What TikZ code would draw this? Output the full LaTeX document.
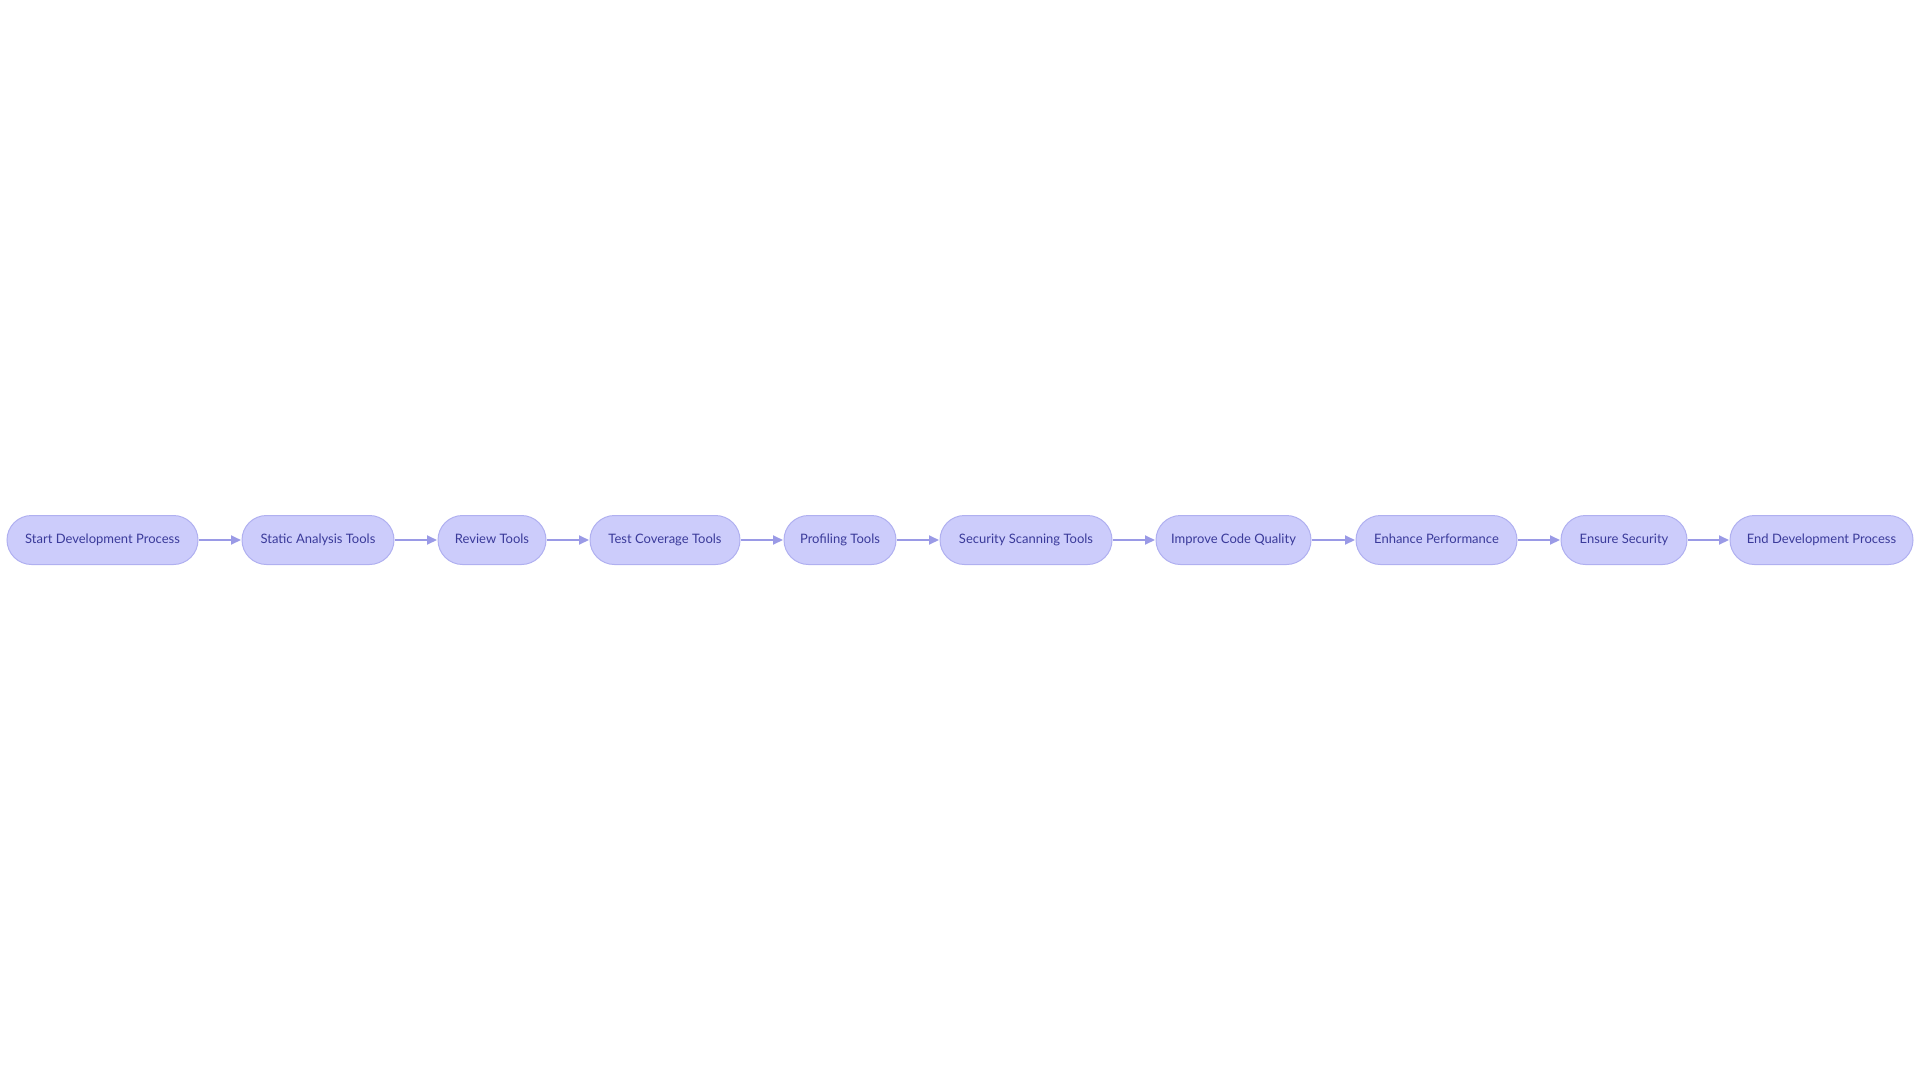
\documentclass[tikz,border=0pt]{standalone}
\usepackage{fontspec}
\setmainfont{Lato}
\usetikzlibrary{arrows.meta}
\definecolor{nodefill}{HTML}{CCCCFB}
\definecolor{nodedraw}{HTML}{B0B0F0}
\definecolor{nodetext}{HTML}{3A3A9A}
\definecolor{edgecol}{HTML}{9A9AE6}
\tikzset{
  pill/.style={draw=nodedraw, fill=nodefill, line width=1pt, rounded corners=24.5pt,
    minimum height=49pt, inner sep=0pt, text=nodetext, text height=9.6pt, text depth=2.6pt,
    font=\fontsize{13pt}{15pt}\selectfont},
  flow/.style={draw=edgecol, line width=1.8pt, -{Triangle[length=10pt,width=9pt]}, shorten >=0.5pt}
}
\begin{document}
\begin{tikzpicture}[x=1pt,y=-1pt]
\useasboundingbox (0,0) rectangle (1920,1080);
\node[pill, minimum width=191pt] (n1) at (102.5,540) {Start Development Process};
\node[pill, minimum width=152pt] (n2) at (318,540) {Static Analysis Tools};
\node[pill, minimum width=108pt] (n3) at (492,540) {Review Tools};
\node[pill, minimum width=150pt] (n4) at (665,540) {Test Coverage Tools};
\node[pill, minimum width=112pt] (n5) at (840,540) {Profiling Tools};
\node[pill, minimum width=172pt] (n6) at (1026,540) {Security Scanning Tools};
\node[pill, minimum width=155pt] (n7) at (1233.5,540) {Improve Code Quality};
\node[pill, minimum width=161pt] (n8) at (1436.5,540) {Enhance Performance};
\node[pill, minimum width=126pt] (n9) at (1624,540) {Ensure Security};
\node[pill, minimum width=183pt] (n10) at (1821.5,540) {End Development Process};
\foreach \a/\b in {n1/n2,n2/n3,n3/n4,n4/n5,n5/n6,n6/n7,n7/n8,n8/n9,n9/n10}
  \draw[flow] (\a) -- (\b);
\end{tikzpicture}
\end{document}
